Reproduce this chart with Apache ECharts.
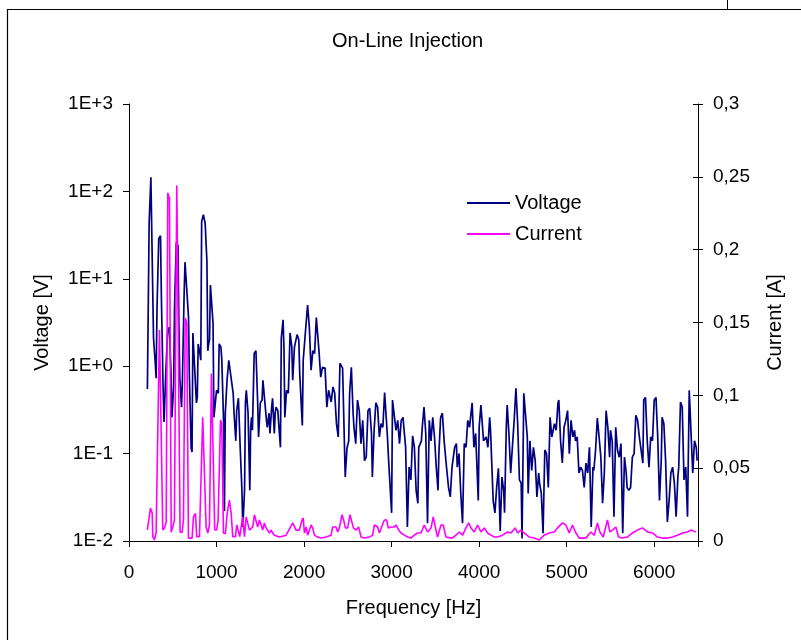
<!DOCTYPE html>
<html><head><meta charset="utf-8">
<script src="https://cdn.jsdelivr.net/npm/echarts@6/dist/echarts.min.js"></script>
<style>html,body{margin:0;padding:0;background:#fff}#c{width:801px;height:640px}</style>
</head><body><div id="c"></div>
<script>
const titleText = 'On-Line Injection';
const xName = 'Frequency [Hz]';
const leftName = 'Voltage [V]';
const rightName = 'Current [A]';
const seriesNames = ['Voltage', 'Current'];
const xTicks = [0, 1000, 2000, 3000, 4000, 5000, 6000];
const leftTickLabels = ['1E-2', '1E-1', '1E+0', '1E+1', '1E+2', '1E+3'];
const rightTickLabels = ['0', '0,05', '0,1', '0,15', '0,2', '0,25', '0,3'];

const voltageHz = [210,220,230,250,260,280,300,310,320,340,360,370,390,400,420,440,460,480,490,510,520,540,560,570,580,600,610,630,640,660,680,690,710,720,730,750,770,780,790,810,820,830,850,870,890,900,910,920,930,950,960,970,990,1000,1020,1030,1050,1060,1080,1090,1100,1120,1140,1160,1170,1190,1200,1220,1230,1250,1260,1270,1290,1300,1320,1330,1340,1360,1380,1390,1400,1410,1430,1450,1470,1480,1500,1520,1530,1550,1570,1580,1600,1610,1630,1640,1660,1670,1680,1700,1710,1730,1740,1760,1770,1780,1800,1820,1840,1860,1870,1890,1920,1940,1950,1980,1990,2010,2020,2040,2060,2080,2100,2120,2140,2160,2170,2190,2210,2240,2260,2280,2310,2330,2350,2370,2390,2410,2440,2470,2490,2510,2520,2540,2560,2570,2590,2610,2630,2650,2670,2690,2710,2730,2750,2770,2780,2800,2820,2840,2860,2880,2900,2920,2940,2950,2970,3000,3010,3030,3050,3070,3090,3110,3130,3150,3160,3180,3200,3220,3240,3260,3280,3300,3310,3340,3350,3370,3390,3410,3430,3450,3470,3490,3510,3530,3540,3560,3580,3600,3620,3650,3670,3690,3720,3740,3750,3770,3790,3810,3830,3850,3870,3890,3920,3940,3960,3990,4000,4020,4050,4080,4100,4120,4130,4150,4160,4180,4200,4220,4240,4260,4280,4290,4310,4320,4340,4360,4380,4400,4420,4440,4460,4480,4490,4510,4530,4550,4560,4580,4600,4620,4640,4660,4680,4690,4710,4730,4750,4770,4790,4810,4830,4860,4880,4900,4910,4930,4950,4970,4990,5010,5030,5050,5070,5090,5100,5120,5140,5160,5180,5200,5220,5240,5260,5280,5300,5310,5330,5350,5370,5390,5410,5430,5450,5470,5490,5500,5520,5540,5560,5580,5600,5620,5640,5660,5680,5690,5710,5730,5750,5770,5790,5810,5830,5850,5870,5880,5900,5920,5940,5960,5980,6000,6020,6040,6060,6080,6090,6110,6130,6150,6170,6190,6210,6230,6250,6270,6280,6300,6320,6340,6360,6380,6400,6420,6440,6460,6480,6490];
const voltageV = [0.55,0.53,43,145,140,2.1,1.08,0.73,4.7,29,31,6.2,0.53,0.23,0.83,2.4,2.8,0.83,0.26,0.58,4.7,26,24,2.8,0.75,0.34,0.69,6.9,15.5,15,3.6,0.75,0.115,0.104,2.4,2.3,0.38,0.44,1.8,1.4,1.17,45,54,43,16,1.5,1.8,2.0,8.5,8.5,3.1,0.26,0.26,0.53,0.49,1.8,1.65,1.2,0.24,0.022,0.29,0.69,1.17,1.17,0.69,0.49,0.29,0.14,0.31,0.43,0.41,0.118,0.038,0.0145,0.038,0.38,0.53,0.29,0.038,0.2,0.26,0.185,1.4,1.5,0.38,0.155,0.38,0.41,0.69,0.69,0.24,0.2,0.29,0.17,0.34,0.43,0.17,0.29,0.34,0.31,0.22,0.118,2.1,3.4,1.65,0.26,0.53,0.49,2.4,1.65,0.69,1.65,2.3,2.0,0.83,0.21,1.17,2.1,2.0,5.0,2.8,0.9,1.5,1.4,3.6,3.5,1.5,0.75,0.97,0.95,0.34,0.53,0.39,0.58,0.49,0.22,0.155,1.08,0.95,0.054,0.115,0.14,0.49,0.97,0.29,0.2,0.13,0.41,0.31,0.13,0.24,0.083,0.091,0.31,0.33,0.17,0.054,0.185,0.38,0.34,0.155,0.22,0.2,0.5,0.49,0.17,0.07,0.021,0.41,0.41,0.185,0.24,0.13,0.24,0.26,0.26,0.118,0.0145,0.07,0.05,0.16,0.118,0.038,0.027,0.118,0.14,0.2,0.34,0.17,0.016,0.24,0.14,0.26,0.155,0.07,0.038,0.1,0.26,0.29,0.14,0.083,0.041,0.032,0.07,0.118,0.13,0.07,0.1,0.035,0.016,0.13,0.118,0.24,0.2,0.38,0.118,0.17,0.029,0.2,0.36,0.14,0.155,0.118,0.26,0.185,0.054,0.029,0.021,0.041,0.068,0.013,0.054,0.038,0.021,0.2,0.36,0.17,0.06,0.06,0.24,0.56,0.22,0.05,0.046,0.0107,0.49,0.5,0.155,0.035,0.14,0.064,0.118,0.083,0.032,0.06,0.046,0.035,0.0123,0.11,0.1,0.041,0.26,0.155,0.22,0.185,0.38,0.41,0.14,0.078,0.2,0.24,0.31,0.1,0.24,0.155,0.185,0.14,0.155,0.06,0.07,0.064,0.041,0.078,0.06,0.118,0.0145,0.07,0.064,0.11,0.255,0.155,0.091,0.027,0.06,0.31,0.2,0.091,0.185,0.14,0.019,0.2,0.11,0.091,0.13,0.0123,0.091,0.06,0.041,0.038,0.041,0.091,0.1,0.275,0.24,0.155,0.155,0.078,0.41,0.44,0.14,0.07,0.155,0.14,0.41,0.44,0.155,0.029,0.083,0.26,0.22,0.083,0.0165,0.029,0.06,0.07,0.046,0.019,0.054,0.07,0.39,0.34,0.05,0.07,0.019,0.53,0.53,0.06,0.14,0.118,0.083];

const currentHz = [210,225,245,265,272,291,310,329,348,368,386,405,425,443,462,482,500,519,546,565,584,607,622,642,660,679,699,721,736,759,774,805,824,842,862,881,900,919,942,961,979,1002,1018,1045,1059,1079,1102,1121,1147,1167,1185,1216,1231,1250,1265,1284,1299,1319,1338,1356,1376,1395,1413,1433,1452,1470,1490,1509,1527,1547,1566,1585,1604,1623,1642,1661,1718,1795,1870,1890,1909,1946,1977,1990,2004,2023,2041,2080,2098,2118,2155,2194,2251,2308,2327,2365,2384,2403,2434,2452,2472,2498,2525,2543,2563,2594,2623,2651,2688,2746,2783,2803,2840,2860,2879,2917,2943,2962,2993,3031,3050,3082,3107,3145,3183,3222,3259,3297,3336,3373,3411,3450,3476,3499,3525,3564,3590,3621,3690,3735,3773,3811,3849,3879,3907,3944,3982,4021,4059,4096,4135,4173,4210,4267,4324,4363,4412,4439,4477,4515,4572,4629,4686,4743,4800,4857,4895,4952,4991,5029,5066,5105,5143,5219,5276,5314,5352,5379,5417,5466,5493,5523,5562,5592,5637,5694,5751,5808,5866,5923,5980,6037,6094,6151,6208,6265,6322,6379,6418,6475];
const currentA = [0.0076,0.0076,0.0226,0.019,0.003,0.0007,0.006,0.006,0.145,0.145,0.0076,0.009,0.013,0.239,0.235,0.006,0.0096,0.0144,0.244,0.245,0.006,0.006,0.0144,0.153,0.15,0.002,0.002,0.002,0.0165,0.019,0.003,0.003,0.002,0.085,0.084,0.0096,0.0055,0.011,0.115,0.115,0.0076,0.0076,0.0144,0.083,0.081,0.0055,0.005,0.019,0.028,0.019,0.003,0.003,0.011,0.012,0.003,0.004,0.0165,0.003,0.0165,0.016,0.0075,0.0075,0.0096,0.018,0.018,0.0096,0.0144,0.011,0.0075,0.0124,0.009,0.0096,0.0055,0.0075,0.0055,0.004,0.0027,0.004,0.0124,0.013,0.0075,0.0075,0.0144,0.0158,0.0055,0.0096,0.004,0.011,0.009,0.004,0.0027,0.002,0.0027,0.004,0.0096,0.0096,0.0062,0.009,0.018,0.0144,0.009,0.009,0.018,0.018,0.009,0.0075,0.0096,0.0027,0.002,0.0027,0.004,0.011,0.0096,0.0055,0.0062,0.0144,0.0144,0.009,0.0096,0.0096,0.011,0.0075,0.0055,0.004,0.0027,0.002,0.004,0.0055,0.0055,0.011,0.0062,0.009,0.0165,0.0096,0.0027,0.011,0.011,0.0027,0.002,0.004,0.0062,0.004,0.009,0.0124,0.009,0.0062,0.011,0.0062,0.009,0.0055,0.004,0.0027,0.0027,0.004,0.0062,0.0055,0.009,0.0055,0.0075,0.0055,0.0027,0.002,0.0007,0.004,0.0055,0.0062,0.009,0.0124,0.011,0.0055,0.011,0.0055,0.002,0.002,0.0062,0.004,0.0124,0.0062,0.0027,0.0144,0.0062,0.0075,0.0096,0.0027,0.002,0.0027,0.0055,0.0075,0.009,0.0062,0.0055,0.0027,0.002,0.002,0.0027,0.004,0.0055,0.0062,0.0075,0.0062];

const voltageData = voltageHz.map((f, i) => [f, voltageV[i]]);
const currentData = currentHz.map((f, i) => [f, currentA[i]]);

const FONT = '"Liberation Sans", Arial, sans-serif';
const chart = echarts.init(document.getElementById('c'), null, {renderer: 'canvas'});
chart.setOption({
  animation: false,
  backgroundColor: '#ffffff',
  title: {text: titleText, left: 332, top: 31, padding: 0, textStyle: {fontFamily: FONT, fontSize: 20, fontWeight: 'normal', color: '#000'}},
  legend: {
    orient: 'vertical', left: 467, top: 193, padding: 0, itemWidth: 43, itemHeight: 2, itemGap: 11,
    icon: 'rect',
    textStyle: {fontFamily: FONT, fontSize: 20, lineHeight: 20, color: '#000'},
    data: seriesNames
  },
  grid: {left: 129, right: 103, top: 104, bottom: 99, containLabel: false},
  xAxis: {
    type: 'value', min: 0, max: 6500, interval: 1000,
    name: xName, nameLocation: 'middle', nameGap: 57,
    nameTextStyle: {fontFamily: FONT, fontSize: 20, color: '#000'},
    axisLine: {lineStyle: {color: '#000', width: 1}},
    axisTick: {show: true, inside: false, length: 6, lineStyle: {color: '#000'}},
    axisLabel: {fontFamily: FONT, fontSize: 19, color: '#000', margin: 22,
      formatter: v => xTicks.indexOf(v) >= 0 ? String(v) : ''},
    splitLine: {show: false}
  },
  yAxis: [
    {
      type: 'log', logBase: 10, min: 0.01, max: 1000, position: 'left',
      name: leftName, nameLocation: 'middle', nameGap: 77, nameRotate: 90,
      nameTextStyle: {fontFamily: FONT, fontSize: 20, color: '#000'},
      axisLine: {show: true, lineStyle: {color: '#000', width: 1}},
      axisTick: {show: true, inside: false, length: 6, lineStyle: {color: '#000'}},
      axisLabel: {fontFamily: FONT, fontSize: 19, color: '#000', margin: 16,
        formatter: v => leftTickLabels[Math.round(Math.log10(v)) + 2]},
      splitLine: {show: false}
    },
    {
      type: 'value', min: 0, max: 0.3, interval: 0.05, position: 'right',
      name: rightName, nameLocation: 'middle', nameGap: 67, nameRotate: 90,
      nameTextStyle: {fontFamily: FONT, fontSize: 20, color: '#000'},
      axisLine: {show: true, lineStyle: {color: '#000', width: 1}},
      axisTick: {show: true, inside: false, length: 5, lineStyle: {color: '#000'}},
      axisLabel: {fontFamily: FONT, fontSize: 19, color: '#000', margin: 15,
        formatter: v => rightTickLabels[Math.round(v / 0.05)]},
      splitLine: {show: false}
    },
    {
      type: 'value', min: 0, max: 0.3, interval: 0.05, position: 'right',
      axisLine: {show: false},
      axisTick: {show: true, inside: true, length: 5, lineStyle: {color: '#000'}},
      axisLabel: {show: false},
      splitLine: {show: false}
    }
  ],
  series: [
    {name: seriesNames[0], type: 'line', yAxisIndex: 0, data: voltageData, symbol: 'none',
      lineStyle: {color: '#000080', width: 1.7}, itemStyle: {color: '#000080'}},
    {name: seriesNames[1], type: 'line', yAxisIndex: 1, data: currentData, symbol: 'none',
      lineStyle: {color: '#ff00ff', width: 1.6}, itemStyle: {color: '#ff00ff'}}
  ],
  graphic: [
    {type: 'polyline', shape: {points: [[7.5, 640], [7.5, 9.5], [801, 9.5]]}, style: {stroke: '#000', lineWidth: 1.2, fill: null}},
    {type: 'line', shape: {x1: 727.5, y1: 0, x2: 727.5, y2: 9}, style: {stroke: '#000', lineWidth: 1}}
  ]
});
</script></body></html>
